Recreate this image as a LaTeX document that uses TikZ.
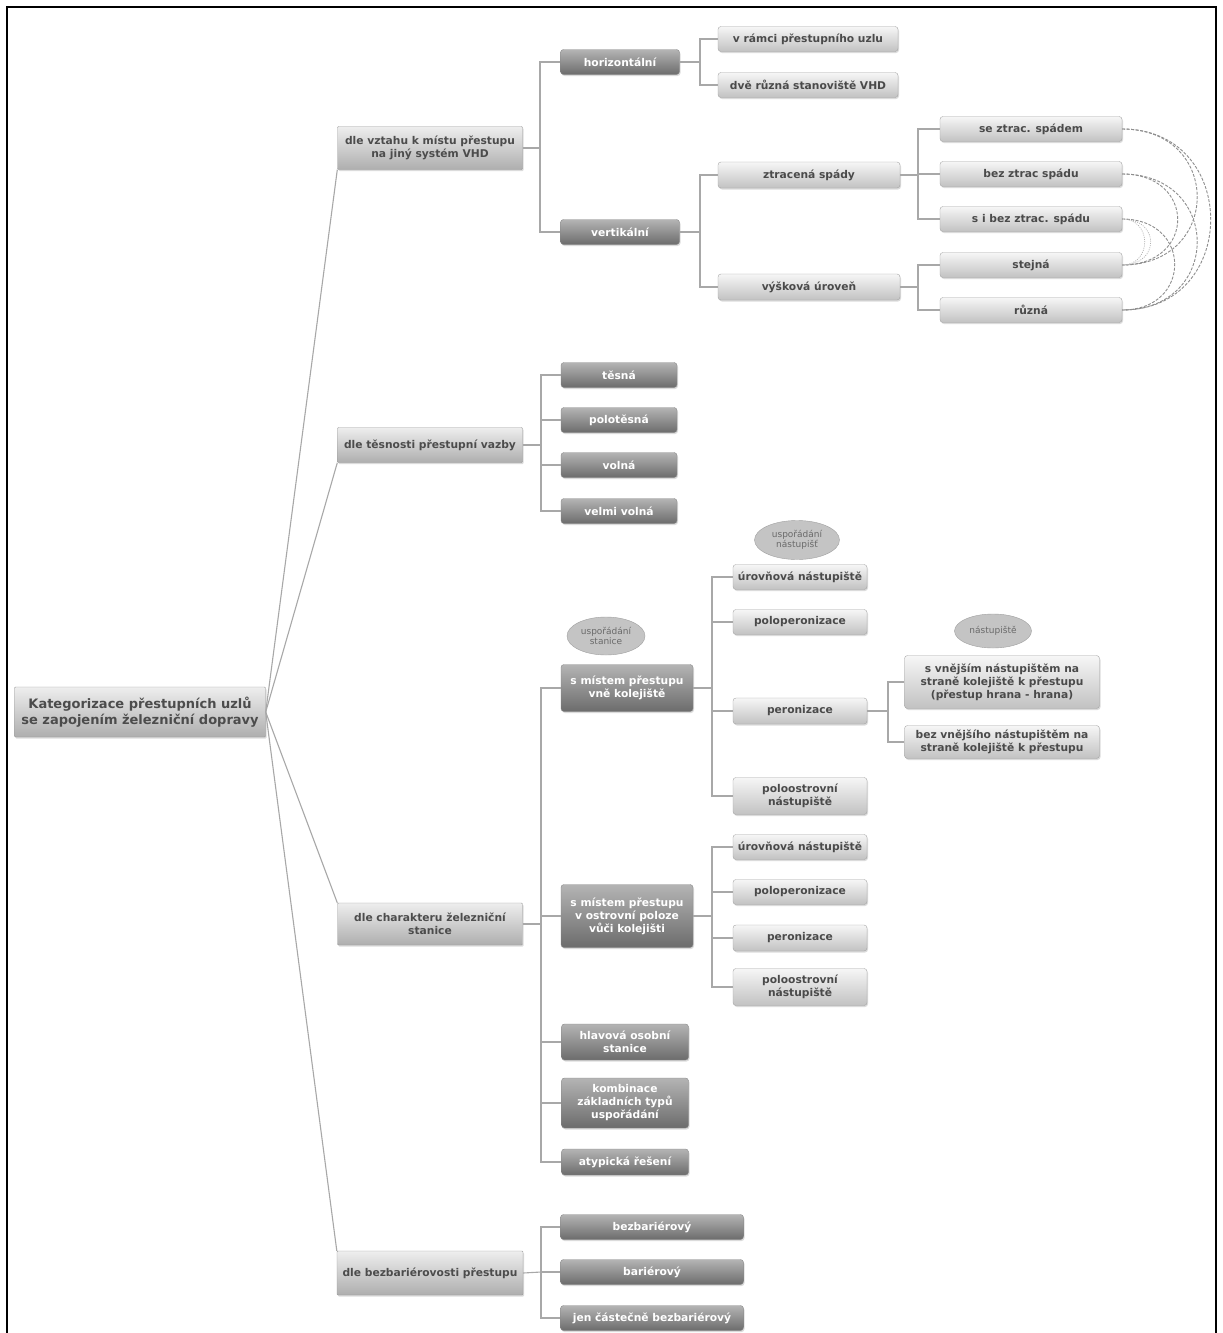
\documentclass[tikz,border=0pt]{standalone}
\usepackage{fontspec}
\setmainfont{DejaVu Sans}
\usetikzlibrary{shadows,shapes.geometric}
\definecolor{LT}{HTML}{F6F6F6}
\definecolor{LB}{HTML}{C2C2C2}
\definecolor{LD}{HTML}{A6A6A6}
\definecolor{LTx}{HTML}{4A4A4A}
\definecolor{DT}{HTML}{B4B4B4}
\definecolor{DB}{HTML}{6C6C6C}
\definecolor{DD}{HTML}{8A8A8A}
\definecolor{CT}{HTML}{EEEEEE}
\definecolor{CB}{HTML}{AEAEAE}
\definecolor{CD}{HTML}{9C9C9C}
\definecolor{CTx}{HTML}{4C4C4C}
\definecolor{EF}{HTML}{C4C4C4}
\definecolor{ED}{HTML}{A0A0A0}
\definecolor{ETx}{HTML}{6A6A6A}
\definecolor{cnc}{HTML}{A8A8A8}
\definecolor{dcc}{HTML}{8E8E8E}
\begin{document}
\begin{tikzpicture}[x=1pt,y=-1pt,
  base/.style={rounded corners=3pt, align=center, inner sep=1pt,
    font=\fontsize{10.7}{13}\selectfont\bfseries,
    drop shadow={shadow xshift=1pt,shadow yshift=-1.5pt,opacity=0.28}},
  lbox/.style={base, top color=LT, bottom color=LB, draw=LD, text=LTx},
  dbox/.style={base, top color=DT, bottom color=DB, draw=DD, text=white},
  cbox/.style={base, rounded corners=1pt, top color=CT, bottom color=CB, draw=CD, text=CTx},
  ell/.style={ellipse, fill=EF, draw=ED, text=ETx, font=\fontsize{9}{10.5}\selectfont, align=center, inner sep=0pt},
  cn/.style={draw=cnc, line width=1.1pt},
  dcurve/.style={draw=dcc, line width=0.9pt, dash pattern=on 3pt off 1.5pt},
  dotcurve/.style={draw=dcc!70, line width=0.7pt, dash pattern=on 1pt off 1.2pt}
]
\useasboundingbox (0,0) rectangle (1223,1333);
\fill[white] (0,0) rectangle (1223,1333);
\draw[line width=2.6pt] (7,1334) -- (7,7) -- (1216,7) -- (1216,1334);

% root
\node[cbox, font=\fontsize{13}{16.5}\selectfont\bfseries, minimum width=251, minimum height=50] (root) at (140,712)
  {Kategorizace přestupních uzlů\\se zapojením železniční dopravy};

% level 1
\node[cbox, minimum width=185, minimum height=43] (A) at (430,148) {dle vztahu k místu přestupu\\na jiný systém VHD};
\node[cbox, minimum width=185, minimum height=35] (B) at (430,445) {dle těsnosti přestupní vazby};
\node[cbox, minimum width=185, minimum height=42] (C) at (430,924) {dle charakteru železniční\\stanice};
\node[cbox, minimum width=186, minimum height=44] (D) at (430,1273) {dle bezbariérovosti přestupu};

\draw[cn] (root.east) -- (A.south west);
\draw[cn] (root.east) -- (B.south west);
\draw[cn] (root.east) -- (C.north west);
\draw[cn] (root.east) -- (D.north west);

% A subtree
\node[dbox, minimum width=119, minimum height=25] (hor) at (620,62) {horizontální};
\node[dbox, minimum width=119, minimum height=25] (ver) at (620,232) {vertikální};
\coordinate (bA) at (540,148);
\draw[cn] (A.east) -- (bA); \draw[cn] (bA) |- (hor.west); \draw[cn] (bA) |- (ver.west);

\node[lbox, minimum width=180, minimum height=25] (vram) at (808,39) {v rámci přestupního uzlu};
\node[lbox, minimum width=180, minimum height=25] (dve) at (808,85) {dvě různá stanoviště VHD};
\coordinate (bH) at (700,62);
\draw[cn] (hor.east) -- (bH); \draw[cn] (bH) |- (vram.west); \draw[cn] (bH) |- (dve.west);

\node[lbox, minimum width=182, minimum height=26] (ztr) at (809,175) {ztracená spády};
\node[lbox, minimum width=182, minimum height=26] (vys) at (809,287) {výšková úroveň};
\coordinate (bV) at (700,232);
\draw[cn] (ver.east) -- (bV); \draw[cn] (bV) |- (ztr.west); \draw[cn] (bV) |- (vys.west);

\node[lbox, minimum width=182, minimum height=25] (se) at (1031,129) {se ztrac. spádem};
\node[lbox, minimum width=182, minimum height=25] (bez) at (1031,174) {bez ztrac spádu};
\node[lbox, minimum width=182, minimum height=25] (sib) at (1031,219) {s i bez ztrac. spádu};
\coordinate (bZ) at (918,175);
\draw[cn] (ztr.east) -- (bZ); \draw[cn] (bZ) |- (se.west); \draw[cn] (bZ) |- (bez.west); \draw[cn] (bZ) |- (sib.west);

\node[lbox, minimum width=182, minimum height=25] (stej) at (1031,265) {stejná};
\node[lbox, minimum width=182, minimum height=25] (ruz) at (1031,310) {různá};
\coordinate (bY) at (918,287);
\draw[cn] (vys.east) -- (bY); \draw[cn] (bY) |- (stej.west); \draw[cn] (bY) |- (ruz.west);

\draw[dcurve] (se.east) .. controls +(100,0) and +(100,0) .. (stej.east);
\draw[dcurve] (se.east) .. controls +(118,0) and +(118,0) .. (ruz.east);
\draw[dcurve] (bez.east) .. controls +(74,0) and +(74,0) .. (stej.east);
\draw[dcurve] (bez.east) .. controls +(100,0) and +(100,0) .. (ruz.east);
\draw[dotcurve] (sib.east) .. controls +(30,0) and +(30,0) .. (stej.east);
\draw[dotcurve] (sib.east) .. controls +(38,0) and +(38,0) .. (stej.east);
\draw[dcurve] (sib.east) .. controls +(70,0) and +(70,0) .. (ruz.east);

% B subtree
\node[dbox, minimum width=116, minimum height=25] (b1) at (619,375) {těsná};
\node[dbox, minimum width=116, minimum height=25] (b2) at (619,420) {polotěsná};
\node[dbox, minimum width=116, minimum height=25] (b3) at (619,465) {volná};
\node[dbox, minimum width=116, minimum height=25] (b4) at (619,511) {velmi volná};
\coordinate (bB) at (541,445);
\draw[cn] (B.east) -- (bB);
\foreach \n in {b1,b2,b3,b4} {\draw[cn] (bB) |- (\n.west);}

% C subtree
\node[dbox, minimum width=132, minimum height=47] (vne) at (627,688) {s místem přestupu\\vně kolejiště};
\node[dbox, minimum width=132, minimum height=63] (ost) at (627,916) {s místem přestupu\\v ostrovní poloze\\vůči kolejišti};
\node[dbox, minimum width=127, minimum height=36] (hla) at (625,1042) {hlavová osobní\\stanice};
\node[dbox, minimum width=127, minimum height=50] (kom) at (625,1103) {kombinace\\základních typů\\uspořádání};
\node[dbox, minimum width=127, minimum height=26] (aty) at (625,1162) {atypická řešení};
\coordinate (bC) at (541,924);
\draw[cn] (C.east) -- (bC);
\foreach \n in {vne,ost,hla,kom,aty} {\draw[cn] (bC) |- (\n.west);}
\node[ell, minimum width=78, minimum height=38] (e1) at (606,636) {uspořádání\\stanice};

\node[lbox, minimum width=134, minimum height=25] (u1) at (800,577) {úrovňová nástupiště};
\node[lbox, minimum width=134, minimum height=25] (p1) at (800,622) {poloperonizace};
\node[lbox, minimum width=134, minimum height=26] (r1) at (800,711) {peronizace};
\node[lbox, minimum width=134, minimum height=37] (o1) at (800,796) {poloostrovní\\nástupiště};
\coordinate (bN) at (712,688);
\draw[cn] (vne.east) -- (bN);
\foreach \n in {u1,p1,r1,o1} {\draw[cn] (bN) |- (\n.west);}
\node[ell, minimum width=85, minimum height=39] (e2) at (797,540) {uspořádání\\nástupišť};

\node[lbox, minimum width=195, minimum height=53] (svn) at (1002,682) {s vnějším nástupištěm na\\straně kolejiště k přestupu\\(přestup hrana - hrana)};
\node[lbox, minimum width=195, minimum height=33] (bvn) at (1002,742) {bez vnějšího nástupištěm na\\straně kolejiště k přestupu};
\coordinate (bP) at (888,711);
\draw[cn] (r1.east) -- (bP); \draw[cn] (bP) |- (svn.west); \draw[cn] (bP) |- (bvn.west);
\node[ell, minimum width=77, minimum height=34] (e3) at (993,631) {nástupiště};

\node[lbox, minimum width=134, minimum height=25] (u2) at (800,847) {úrovňová nástupiště};
\node[lbox, minimum width=134, minimum height=25] (p2) at (800,892) {poloperonizace};
\node[lbox, minimum width=134, minimum height=26] (r2) at (800,938) {peronizace};
\node[lbox, minimum width=134, minimum height=37] (o2) at (800,987) {poloostrovní\\nástupiště};
\coordinate (bO) at (712,916);
\draw[cn] (ost.east) -- (bO);
\foreach \n in {u2,p2,r2,o2} {\draw[cn] (bO) |- (\n.west);}

% D subtree
\node[dbox, minimum width=183, minimum height=25] (d1) at (652,1227) {bezbariérový};
\node[dbox, minimum width=183, minimum height=25] (d2) at (652,1272) {bariérový};
\node[dbox, minimum width=183, minimum height=25] (d3) at (652,1318) {jen částečně bezbariérový};
\coordinate (bD) at (541,1272);
\draw[cn] (D.east) -- (bD);
\foreach \n in {d1,d2,d3} {\draw[cn] (bD) |- (\n.west);}
\end{tikzpicture}
\end{document}
